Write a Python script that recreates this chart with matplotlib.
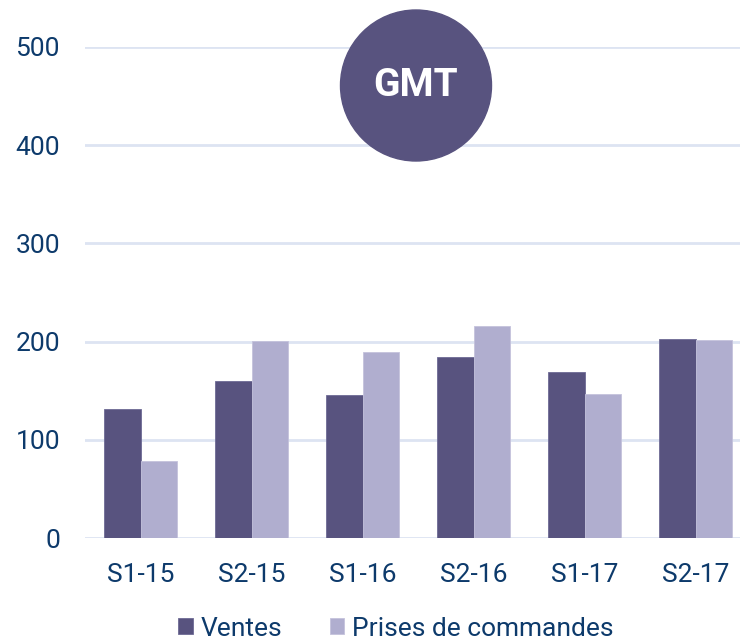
import matplotlib
matplotlib.use("Agg")
import matplotlib.pyplot as plt
from matplotlib.patches import Circle
import numpy as np

categories = ["S1-15", "S2-15", "S1-16", "S2-16", "S1-17", "S2-17"]
ventes = [132, 160, 146, 184, 169, 203]
prises = [79, 201, 189, 216, 147, 202]
series_names = ["Ventes", "Prises de commandes"]
yticks = [0, 100, 200, 300, 400, 500]
title = "GMT"

dark = "#58537f"
light = "#b0aecf"
txt = "#0d3a6b"
grid = "#dde4f2"

plt.rcParams['font.family'] = ['Roboto', 'DejaVu Sans']

W, H = 740, 641
fig = plt.figure(figsize=(W/100, H/100), dpi=100)
ax = fig.add_axes([85/W, 1 - 538.3/H, (740-85)/W, (538.3-46.7)/H])

x = np.arange(len(categories))
bw = 0.333
ax.bar(x - bw/2, ventes, bw, color=dark, edgecolor="#6e6a95", linewidth=0.6, label=series_names[0], zorder=3)
ax.bar(x + bw/2, prises, bw, color=light, edgecolor="#c4c2dc", linewidth=0.6, label=series_names[1], zorder=3)

ax.set_ylim(0, 500)
ax.set_xlim(-0.5, 5.5 - 11/111)
ax.set_yticks(yticks)
ax.set_xticks(x)
ax.set_xticklabels(categories)
ax.grid(axis='y', color=grid, linewidth=2, zorder=0)
ax.set_axisbelow(True)
for s in ax.spines.values():
    s.set_visible(False)
ax.tick_params(axis='both', length=0, labelsize=19, colors=txt)
ax.tick_params(axis='y', pad=18)
ax.tick_params(axis='x', pad=17.5)

cx, cy, r = 416, 85.5, 75.5
circ = Circle((cx/100, (H - cy)/100), r/100, transform=fig.dpi_scale_trans, color=dark, zorder=10)
fig.add_artist(circ)
fig.text(cx/W, (H - cy)/H, title, ha='center', va='center', color='white',
         fontsize=28, fontweight='bold', zorder=11)

leg = fig.legend(loc='center', bbox_to_anchor=(396/W, 12.5/H), ncol=2, frameon=False,
                 fontsize=19, handlelength=0.55, handleheight=0.55, handletextpad=0.3,
                 columnspacing=1.8, labelcolor=txt, borderpad=0)

fig.savefig("out.png", dpi=100)
